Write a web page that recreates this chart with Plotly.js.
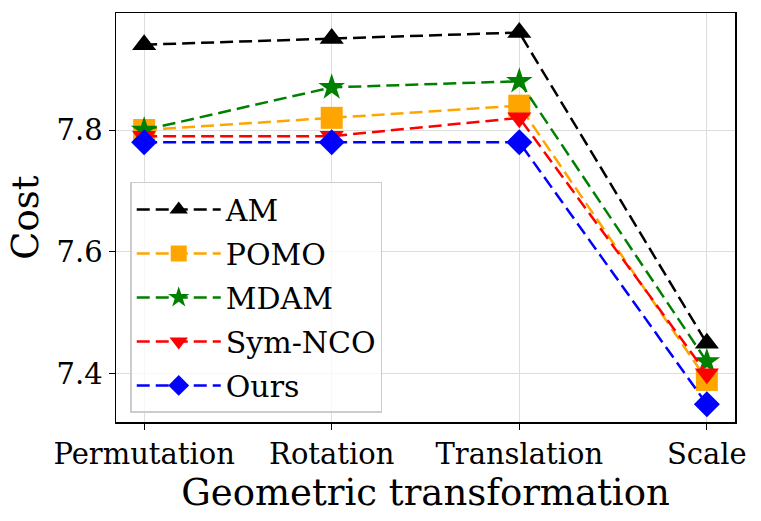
<!DOCTYPE html>
<html>
<head>
<meta charset="utf-8">
<script src="https://cdn.plot.ly/plotly-3.0.1.min.js"></script>
<style>
  body { margin: 0; background: #fff; }
  #chart { width: 761px; height: 521px; }
</style>
</head>
<body>
<div id="chart"></div>
<script>
// transformations on the x axis
let transforms = ['Permutation', 'Rotation', 'Translation', 'Scale'];

// cost per method
let am_cost = [7.94, 7.95, 7.96, 7.45];
let pomo_cost = [7.80, 7.82, 7.84, 7.39];
let mdam_cost = [7.80, 7.87, 7.88, 7.42];
let symnco_cost = [7.79, 7.79, 7.82, 7.40];
let ours_cost = [7.78, 7.78, 7.78, 7.35];

let y_ticks = [7.4, 7.6, 7.8];

let serif = 'DejaVu Serif, serif';

function makeTrace(name, values, color, symbol, size) {
  return {
    x: transforms,
    y: values,
    name: name,
    legendgroup: name,
    type: 'scatter',
    mode: 'lines+markers',
    line: {color: color, width: 2.5, dash: '13px,6px'},
    marker: {color: color, symbol: symbol, size: size}
  };
}

let data = [
  makeTrace('AM', am_cost, '#000000', 'triangle-up', 21),
  makeTrace('POMO', pomo_cost, '#FFA500', 'square', 22),
  makeTrace('MDAM', mdam_cost, '#008000', 'star', 20),
  makeTrace('Sym-NCO', symnco_cost, '#FF0000', 'triangle-down', 21),
  makeTrace('Ours', ours_cost, '#0000FF', 'diamond', 20)
];

let layout = {
  width: 761,
  height: 521,
  margin: {l: 116, r: 26, t: 13, b: 99},
  paper_bgcolor: '#ffffff',
  plot_bgcolor: '#ffffff',
  font: {family: serif, color: '#000000'},
  showlegend: true,
  legend: {
    x: 0.023,
    y: 0.587,
    xanchor: 'left',
    yanchor: 'top',
    bgcolor: 'rgba(255,255,255,0.8)',
    bordercolor: '#cccccc',
    borderwidth: 1.5,
    font: {family: serif, size: 30, color: '#000000'},
    tracegroupgap: 2,
    itemwidth: 84
  },
  xaxis: {
    type: 'category',
    range: [-0.15, 3.15],
    showline: true,
    linecolor: '#000000',
    linewidth: 1.5,
    mirror: true,
    ticks: 'outside',
    ticklen: 6,
    tickcolor: '#000000',
    showgrid: true,
    gridcolor: '#dddddd',
    gridwidth: 1,
    zeroline: false,
    tickfont: {family: serif, size: 29},
    title: {
      text: 'Geometric transformation',
      font: {family: serif, size: 37},
      standoff: 4
    }
  },
  yaxis: {
    range: [7.321, 7.992],
    tickvals: y_ticks,
    ticktext: y_ticks.map(v => v.toFixed(1)),
    showline: true,
    linecolor: '#000000',
    linewidth: 1.5,
    mirror: true,
    ticks: 'outside',
    ticklen: 6,
    tickcolor: '#000000',
    showgrid: true,
    gridcolor: '#dddddd',
    gridwidth: 1,
    zeroline: false,
    tickfont: {family: serif, size: 29},
    title: {
      text: 'Cost',
      font: {family: serif, size: 37},
      standoff: 6
    }
  }
};

Plotly.newPlot('chart', data, layout, {staticPlot: true});
</script>
</body>
</html>
